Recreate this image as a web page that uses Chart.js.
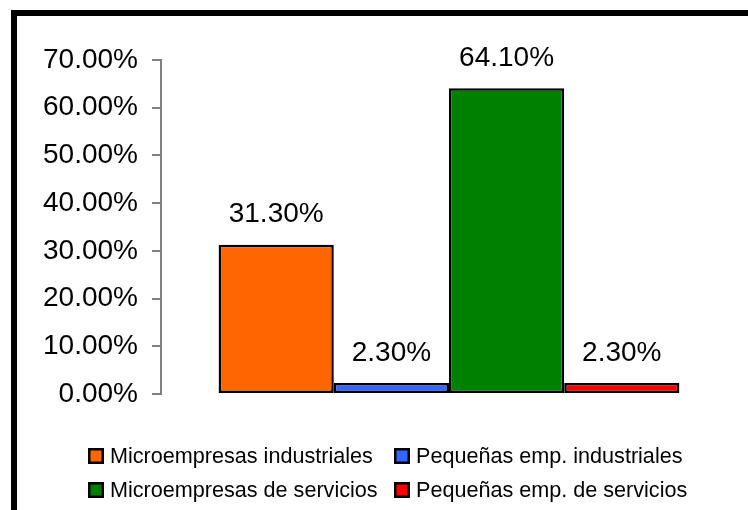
<!DOCTYPE html>
<html>
<head>
<meta charset="utf-8">
<script src="https://cdn.jsdelivr.net/npm/chart.js@4/dist/chart.umd.min.js"></script>
<style>
  html, body { margin: 0; padding: 0; background: #fff; }
  #wrap { position: relative; width: 748px; height: 510px; }
</style>
</head>
<body>
<div id="wrap"><canvas id="c" width="748" height="510"></canvas></div>
<script>
// Distribución de empresas por tipo (%)
const categories = [''];
const seriesNames = [
  'Microempresas industriales',
  'Pequeñas emp. industriales',
  'Microempresas de servicios',
  'Pequeñas emp. de servicios'
];
const seriesValues = [
  [31.3],
  [2.3],
  [64.1],
  [2.3]
];
const seriesColors = ['#FF6600', '#3366FF', '#008000', '#FF0000'];
const yTicks = [0, 10, 20, 30, 40, 50, 60, 70];

const FONT = "'Liberation Sans', Arial, sans-serif";

// White page with the black frame on its left and top edges
const framePlugin = {
  id: 'frame',
  beforeDraw(chart) {
    const ctx = chart.ctx;
    ctx.save();
    ctx.fillStyle = '#fff';
    ctx.fillRect(0, 0, chart.width, chart.height);
    ctx.fillStyle = '#000';
    ctx.fillRect(11, 10, 6, chart.height - 10);
    ctx.fillRect(11, 10, chart.width - 11, 6);
    ctx.restore();
  }
};

// Percentage written above each bar
const valueLabels = {
  id: 'valueLabels',
  afterDatasetsDraw(chart) {
    const ctx = chart.ctx;
    ctx.save();
    ctx.font = '28px ' + FONT;
    ctx.fillStyle = '#000';
    ctx.textAlign = 'center';
    ctx.textBaseline = 'middle';
    chart.data.datasets.forEach((ds, i) => {
      chart.getDatasetMeta(i).data.forEach((bar, j) => {
        ctx.fillText(ds.data[j].toFixed(2) + '%', bar.x, bar.y - 30);
      });
    });
    ctx.restore();
  }
};

// Two-column legend below the plot
const gridLegend = {
  id: 'gridLegend',
  afterDraw(chart) {
    const ctx = chart.ctx;
    const cols = [88, 394];
    const rows = [456, 490];
    ctx.save();
    ctx.font = '21.6px ' + FONT;
    ctx.textBaseline = 'middle';
    ctx.textAlign = 'left';
    chart.data.datasets.forEach((ds, i) => {
      const x = cols[i % 2];
      const y = rows[Math.floor(i / 2)];
      ctx.fillStyle = '#000';
      ctx.fillRect(x, y - 8, 16, 16);
      ctx.fillStyle = ds.backgroundColor;
      ctx.fillRect(x + 2.5, y - 5.5, 11, 11);
      ctx.fillStyle = '#000';
      ctx.fillText(ds.label, x + 22, y + 1);
    });
    ctx.restore();
  }
};

new Chart(document.getElementById('c'), {
  type: 'bar',
  data: {
    labels: categories,
    datasets: seriesNames.map((name, i) => ({
      label: name,
      data: seriesValues[i],
      backgroundColor: seriesColors[i],
      borderColor: '#000',
      borderWidth: 2.5,
      borderSkipped: false,
      categoryPercentage: 0.8,
      barPercentage: 1.0
    }))
  },
  options: {
    responsive: false,
    animation: false,
    layout: { padding: { left: 0, top: 60, right: 11, bottom: 116 } },
    plugins: {
      legend: { display: false },
      tooltip: { enabled: false }
    },
    scales: {
      x: { display: false },
      y: {
        min: 0,
        max: 70,
        afterBuildTicks(scale) {
          scale.ticks = yTicks.map(v => ({ value: v }));
        },
        afterFit(scale) { scale.width = 161; },
        border: { display: true, color: '#808080', width: 2 },
        grid: {
          drawOnChartArea: false,
          drawTicks: true,
          tickLength: 9,
          color: '#808080',
          lineWidth: 2
        },
        ticks: {
          padding: 14,
          color: '#000',
          font: { family: FONT, size: 28 },
          callback: v => v.toFixed(2) + '%'
        }
      }
    }
  },
  plugins: [framePlugin, valueLabels, gridLegend]
});
</script>
</body>
</html>
